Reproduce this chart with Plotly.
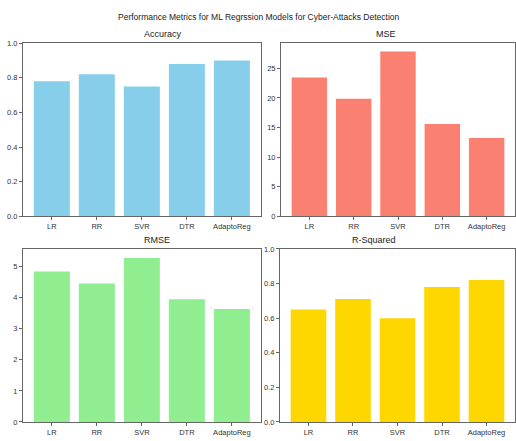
import plotly.graph_objects as go

models = ["LR", "RR", "SVR", "DTR", "AdaptoReg"]
accuracy = [0.78, 0.82, 0.75, 0.88, 0.90]
mse = [23.45, 19.87, 27.87, 15.6, 13.25]
rmse = [4.84, 4.46, 5.28, 3.95, 3.64]
r_squared = [0.65, 0.71, 0.60, 0.78, 0.82]

FONT = "Liberation Sans, Arial, sans-serif"
W, H = 516, 441

panels = [
    # (title, values, colour, y-range, tick values, tick format, x-domain, y-domain)
    ("Accuracy", accuracy, "#87CEEB", [0, 1.0], [0, 0.2, 0.4, 0.6, 0.8, 1.0], ".1f",
     [23 / W, 260.7 / W], [1 - 216.7 / H, 1 - 40 / H]),
    ("MSE", mse, "#FA8072", [0, max(mse) * 1.05], [0, 5, 10, 15, 20, 25], "d",
     [281 / W, 515 / W], [1 - 216.7 / H, 1 - 40 / H]),
    ("RMSE", rmse, "#90EE90", [0, max(rmse) * 1.055], [0, 1, 2, 3, 4, 5], "d",
     [23 / W, 260.7 / W], [1 - 426.7 / H, 1 - 250 / H]),
    ("R-Squared", r_squared, "#FFD700", [0, 1.0], [0, 0.2, 0.4, 0.6, 0.8, 1.0], ".1f",
     [280 / W, 515 / W], [1 - 426.7 / H, 1 - 250 / H]),
]

fig = go.Figure()
annotations = []
for i, (title, vals, color, yr, tv, tf, xd, yd) in enumerate(panels, start=1):
    xa = "x" if i == 1 else f"x{i}"
    ya = "y" if i == 1 else f"y{i}"
    fig.add_trace(go.Bar(x=list(range(len(models))), y=vals, marker_color=color,
                         marker_line_width=0, width=0.8, xaxis=xa, yaxis=ya,
                         showlegend=False, hoverinfo="y"))
    axis_common = dict(showline=True, linecolor="#666666", linewidth=1, mirror=True,
                       ticks="outside", ticklen=3, tickcolor="#666666", showgrid=False,
                       zeroline=False, tickfont=dict(family=FONT, size=7.5, color="#333333"))
    fig.layout[("xaxis" if i == 1 else f"xaxis{i}")] = dict(
        domain=xd, anchor=ya, range=[-0.64, 4.64], tickmode="array",
        tickvals=list(range(len(models))), ticktext=models, **axis_common)
    fig.layout[("yaxis" if i == 1 else f"yaxis{i}")] = dict(
        domain=yd, anchor=xa, range=yr, tickmode="array", tickvals=tv,
        tickformat=tf, **axis_common)
    annotations.append(dict(text=title, x=(xd[0] + xd[1]) / 2, y=yd[1], xref="paper",
                            yref="paper", yanchor="bottom", yshift=2, showarrow=False,
                            font=dict(family=FONT, size=9, color="#222222")))

annotations.append(dict(text="Performance Metrics for ML Regrssion Models for Cyber-Attacks Detection",
                        x=0.5, y=1 - 13 / H, xref="paper", yref="paper", yanchor="middle",
                        showarrow=False, font=dict(family=FONT, size=8.5, color="#222222")))

fig.update_layout(width=W, height=H, margin=dict(l=0, r=0, t=0, b=0),
                  paper_bgcolor="white", plot_bgcolor="white", annotations=annotations,
                  bargap=0.2)
fig.write_html("out.html")
